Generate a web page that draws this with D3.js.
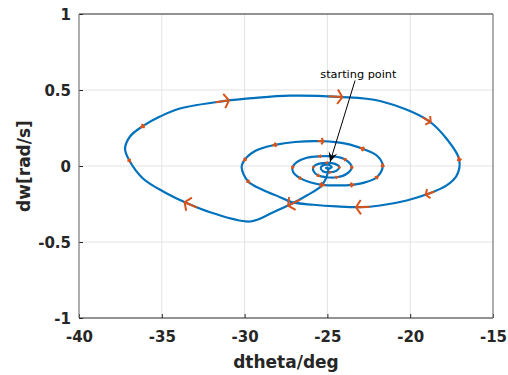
<!DOCTYPE html>
<html>
<head>
<meta charset="utf-8">
<script src="https://cdn.jsdelivr.net/npm/d3@7"></script>
<style>
  body { margin: 0; background: #fff; }
  text { font-family: "DejaVu Sans", sans-serif; }
</style>
</head>
<body>
<div id="chart"></div>
<script>
// phase trajectory (dtheta in deg, dw in rad/s)
var dtheta = [-24.95, -24.97, -25.34, -26.25, -27.16, -28.27, -29.67, -32.09, -33.40, -34.81,
  -36.12, -36.96, -37.22, -36.92, -36.15, -35.11, -33.90, -31.18, -29.47, -27.26,
  -24.34, -21.82, -18.91, -17.80, -17.04, -17.19, -17.80, -18.91, -20.21, -21.82,
  -23.03, -24.44, -25.85, -27.16, -27.86, -28.89, -29.78, -30.18, -29.98, -29.31,
  -28.16, -26.96, -25.34, -23.83, -22.87, -22.02, -21.66, -22.02, -22.83, -23.53,
  -24.24, -25.34, -26.05, -26.65, -27.06, -27.10, -26.85, -26.25, -25.45, -24.64,
  -23.94, -23.53, -23.83, -24.44, -25.04, -25.55, -25.85, -25.85, -25.65, -25.04,
  -24.54, -24.28, -24.44, -24.84, -25.25, -25.40, -25.28, -24.95, -24.74, -24.95,
  -25.09, -24.95];
var dw = [-0.008, -0.043, -0.128, -0.194, -0.249, -0.304, -0.365, -0.304, -0.249, -0.174,
  -0.084, 0.036, 0.113, 0.194, 0.262, 0.325, 0.378, 0.428, 0.447, 0.463,
  0.455, 0.428, 0.299, 0.179, 0.043, -0.063, -0.128, -0.183, -0.227, -0.260,
  -0.271, -0.266, -0.255, -0.238, -0.205, -0.158, -0.102, -0.008, 0.043, 0.102,
  0.139, 0.158, 0.163, 0.146, 0.113, 0.069, 0.003, -0.074, -0.111, -0.124,
  -0.128, -0.124, -0.107, -0.080, -0.041, -0.008, 0.025, 0.054, 0.064, 0.063,
  0.043, -0.008, -0.051, -0.074, -0.074, -0.063, -0.030, -0.008, 0.010, 0.021,
  0.014, -0.008, -0.030, -0.041, -0.036, -0.014, 0.003, 0.008, -0.008, -0.018,
  -0.012, -0.008];

// direction arrows: index of the trajectory sample they sit on, and arrow size
var arrowIdx = [17, 14, 11, 8, 20, 22, 24, 27, 30, 4,
  40, 38, 36, 42, 44, 46, 47, 49, 51,
  53, 55, 58, 60, 61, 63, 65,
  67, 69, 71, 73];
var arrowLen = [8, 2.5, 2, 8, 8, 5.5, 2.5, 5.5, 8, 8,
  2.5, 2, 2, 3.5, 2.5, 2, 2, 2.5, 3,
  1.6, 1.6, 1.6, 1.6, 1.6, 1.6, 1.6,
  1.2, 1.2, 1.2, 1.2];

var xTicks = [-40, -35, -30, -25, -20, -15];
var yTicks = [-1, -0.5, 0, 0.5, 1];

var noteText = "starting point";
var noteFrom = [-23.33, 0.5625];
var noteTo = [-24.84, 0.026];
var noteAt = [-23.13, 0.582];

var width = 508, height = 375;
var margin = {top: 14, right: 15, bottom: 57, left: 79};

var svg = d3.select("#chart").append("svg")
  .attr("width", width)
  .attr("height", height);

var x = d3.scaleLinear().domain([-40, -15]).range([margin.left, width - margin.right]);
var y = d3.scaleLinear().domain([-1, 1]).range([height - margin.bottom, margin.top]);

// grid
svg.append("g").selectAll("line").data(xTicks.slice(1, -1)).enter().append("line")
  .attr("x1", d => x(d)).attr("x2", d => x(d))
  .attr("y1", y(-1)).attr("y2", y(1))
  .attr("stroke", "#e3e3e3").attr("stroke-width", 1);
svg.append("g").selectAll("line").data(yTicks.slice(1, -1)).enter().append("line")
  .attr("y1", d => y(d)).attr("y2", d => y(d))
  .attr("x1", x(-40)).attr("x2", x(-15))
  .attr("stroke", "#e3e3e3").attr("stroke-width", 1);

// axes (plain hyphen for negatives, like the original)
var xAxis = svg.append("g")
  .attr("transform", "translate(0," + y(-1) + ")")
  .call(d3.axisBottom(x).tickValues(xTicks).tickSize(-4).tickPadding(13).tickFormat(d => String(d)));
var yAxis = svg.append("g")
  .attr("transform", "translate(" + x(-40) + ",0)")
  .call(d3.axisLeft(y).tickValues(yTicks).tickSize(-4).tickPadding(8).tickFormat(d => String(d)));
[xAxis, yAxis].forEach(function(g) {
  g.select(".domain").remove();
  g.selectAll(".tick line").attr("stroke", "#262626");
  g.selectAll(".tick text")
    .attr("fill", "#262626")
    .style("font-family", "'DejaVu Sans', sans-serif")
    .style("font-size", "15px")
    .style("font-weight", "bold");
});
yAxis.selectAll(".tick text").attr("dy", "0.36em");

// box
svg.append("line").attr("x1", x(-40)).attr("x2", x(-15)).attr("y1", y(1)).attr("y2", y(1))
  .attr("stroke", "#262626").attr("stroke-width", 1.2);
svg.append("line").attr("x1", x(-40)).attr("x2", x(-15)).attr("y1", y(-1)).attr("y2", y(-1))
  .attr("stroke", "#262626").attr("stroke-width", 1.2);
svg.append("line").attr("x1", x(-40)).attr("x2", x(-40)).attr("y1", y(1)).attr("y2", y(-1))
  .attr("stroke", "#777").attr("stroke-width", 1.2);
svg.append("line").attr("x1", x(-15)).attr("x2", x(-15)).attr("y1", y(1)).attr("y2", y(-1))
  .attr("stroke", "#777").attr("stroke-width", 1.2);

// trajectory
var pts = dtheta.map((d, i) => [x(d), y(dw[i])]);
svg.append("path")
  .attr("d", d3.line().curve(d3.curveCatmullRom.alpha(0.5))(pts))
  .attr("fill", "none")
  .attr("stroke", "#0072BD")
  .attr("stroke-width", 2.2);

// quiver-like direction arrows
var arrows = svg.append("g")
  .attr("fill", "none")
  .attr("stroke", "#D95319")
  .attr("stroke-width", 2)
  .attr("stroke-linecap", "butt");
arrowIdx.forEach(function(k, i) {
  var a = pts[Math.max(k - 1, 0)], b = pts[Math.min(k + 1, pts.length - 1)];
  var dx = b[0] - a[0], dy = b[1] - a[1];
  var n = Math.sqrt(dx * dx + dy * dy);
  dx /= n; dy /= n;
  var s = arrowLen[i];
  var tip = [pts[k][0] + dx * s * 0.5, pts[k][1] + dy * s * 0.5];
  var tail = [tip[0] - dx * s * 1.7, tip[1] - dy * s * 1.7];
  var back = [tip[0] - dx * s * 0.6, tip[1] - dy * s * 0.6];
  var p1 = [back[0] - dy * s * 0.9, back[1] + dx * s * 0.9];
  var p2 = [back[0] + dy * s * 0.9, back[1] - dx * s * 0.9];
  arrows.append("path")
    .attr("d", "M" + tail + "L" + tip + "M" + p1 + "L" + tip + "L" + p2);
});

// annotation
var fx = x(noteFrom[0]), fy = y(noteFrom[1]), tx = x(noteTo[0]), ty = y(noteTo[1]);
svg.append("line")
  .attr("x1", fx).attr("y1", fy).attr("x2", tx).attr("y2", ty)
  .attr("stroke", "#000").attr("stroke-width", 1);
var ang = Math.atan2(ty - fy, tx - fx);
var hl = 10, hw = 4.5;
var ux = Math.cos(ang), uy = Math.sin(ang);
var head = [
  [tx, ty],
  [tx - ux * hl - uy * hw, ty - uy * hl + ux * hw],
  [tx - ux * hl * 0.6, ty - uy * hl * 0.6],
  [tx - ux * hl + uy * hw, ty - uy * hl - ux * hw]
];
svg.append("path").attr("d", "M" + head.join("L") + "Z").attr("fill", "#000");
svg.append("text")
  .attr("x", x(noteAt[0])).attr("y", y(noteAt[1]))
  .attr("text-anchor", "middle")
  .style("font-size", "11.3px")
  .attr("fill", "#000")
  .text(noteText);

// axis labels
svg.append("text")
  .attr("x", (x(-40) + x(-15)) / 2).attr("y", 368)
  .attr("text-anchor", "middle")
  .style("font-size", "17px").style("font-weight", "bold")
  .attr("fill", "#262626")
  .text("dtheta/deg");
svg.append("text")
  .attr("transform", "translate(30," + y(0) + ") rotate(-90)")
  .attr("text-anchor", "middle")
  .style("font-size", "17px").style("font-weight", "bold")
  .attr("fill", "#262626")
  .text("dw[rad/s]");
</script>
</body>
</html>
